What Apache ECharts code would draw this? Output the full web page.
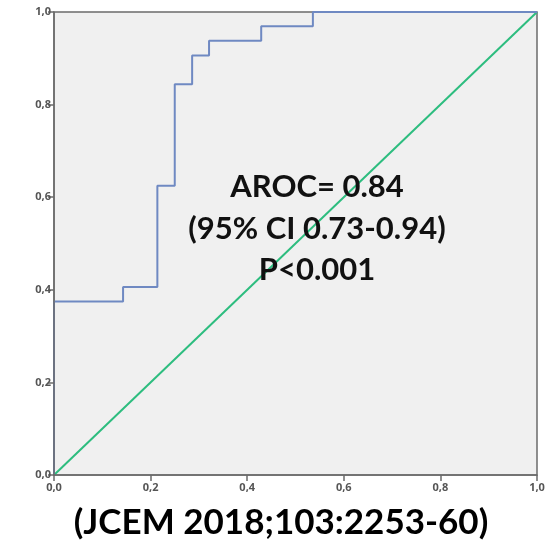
<!DOCTYPE html>
<html>
<head>
<meta charset="utf-8">
<script src="https://cdn.jsdelivr.net/npm/echarts@6/dist/echarts.min.js"></script>
<style>
  html, body { margin: 0; padding: 0; background: #fff; }
  #chart { width: 548px; height: 546px; }
</style>
</head>
<body>
<div id="chart"></div>
<script>
// ROC curve: 1 - specificity (x) against sensitivity (y)
const fpr = [0, 0, 0.143, 0.214, 0.25, 0.286, 0.321, 0.429, 0.536, 1];
const tpr = [0, 0.375, 0.406, 0.625, 0.844, 0.906, 0.938, 0.969, 1, 1];
// Reference line of no discrimination
const refX = [0, 1];
const refY = [0, 1];
const statLines = ['AROC= 0.84', '(95% CI 0.73-0.94)', 'P<0.001'];
const caption = '(JCEM 2018;103:2253-60)';

const fmt = v => v.toFixed(1).replace('.', ',');

const chart = echarts.init(document.getElementById('chart'), null, { renderer: 'canvas' });

const axisCommon = {
  type: 'value', min: 0, max: 1, interval: 0.2,
  z: 3,
  axisLine: { show: true, lineStyle: { color: '#6b6b6b', width: 1.5 } },
  axisTick: { show: true, inside: false, length: 6, lineStyle: { color: '#6b6b6b', width: 1.5 } },
  splitLine: { show: false },
  axisLabel: {
    color: '#555', fontSize: 11, fontWeight: 'bold', fontFamily: 'Open Sans',
    formatter: v => fmt(v)
  }
};

chart.setOption({
  animation: false,
  backgroundColor: '#ffffff',
  grid: {
    left: 54, right: 11, top: 12, bottom: 71,
    show: true, backgroundColor: '#f0f0f0', borderColor: '#6b6b6b', borderWidth: 1.5
  },
  xAxis: Object.assign({}, axisCommon, {
    axisLabel: Object.assign({}, axisCommon.axisLabel, { margin: 7 })
  }),
  yAxis: Object.assign({}, axisCommon, {
    axisLabel: Object.assign({}, axisCommon.axisLabel, { margin: 3 })
  }),
  series: [
    {
      type: 'line',
      data: refX.map((x, i) => [x, refY[i]]),
      showSymbol: false,
      lineStyle: { color: '#2dbd7f', width: 2 },
      z: 2
    },
    {
      type: 'line',
      step: 'end',
      data: fpr.map((x, i) => [x, tpr[i]]),
      showSymbol: false,
      lineStyle: { color: '#6f89c2', width: 2 },
      z: 2
    }
  ],
  graphic: [
    ...statLines.map((t, i) => ({
      type: 'text',
      x: 317,
      y: 187 + i * 41.5,
      z: 10,
      style: {
        text: t,
        fill: '#111',
        font: 'bold 31px Lato',
        textAlign: 'center',
        textVerticalAlign: 'middle'
      }
    })),
    {
      type: 'text',
      x: 281,
      y: 523,
      style: {
        text: caption,
        fill: '#000',
        font: 'bold 35px Lato',
        textAlign: 'center',
        textVerticalAlign: 'middle'
      }
    }
  ]
});
</script>
</body>
</html>
